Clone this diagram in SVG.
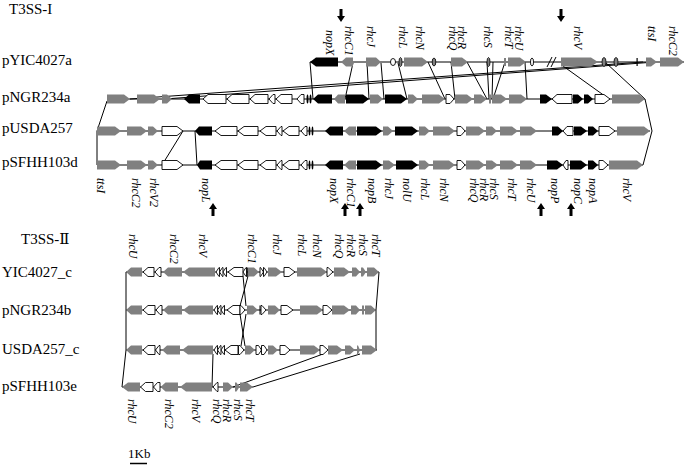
<svg xmlns="http://www.w3.org/2000/svg" width="685" height="465" viewBox="0 0 685 465">
<style>
.g{fill:#808080}
.gs{fill:#808080;stroke:#000;stroke-width:0.8}
.b{fill:#000}
.w{fill:#fff;stroke:#000;stroke-width:0.9}
.bb{stroke:#000;stroke-width:1}
.c{stroke:#000;stroke-width:1;fill:none}
.lab{font-family:"Liberation Serif","DejaVu Serif",serif;font-size:15px;fill:#000}
.gl{font-family:"Liberation Serif",serif;font-size:12px;font-style:italic;fill:#000}
</style>
<rect width="685" height="465" fill="#fff"/>

<g id="titles">
<text class="lab" x="9" y="14">T3SS-I</text>
<text class="lab" x="21" y="244">T3SS-Ⅱ</text>
<text class="lab" x="2" y="65">pYIC4027a</text>
<text class="lab" x="2" y="102">pNGR234a</text>
<text class="lab" x="2" y="133">pUSDA257</text>
<text class="lab" x="2" y="167">pSFHH103d</text>
<text class="lab" x="2" y="277">YIC4027_c</text>
<text class="lab" x="2" y="315">pNGR234b</text>
<text class="lab" x="2" y="354">USDA257_c</text>
<text class="lab" x="2" y="391">pSFHH103e</text>
</g>

<g id="connectors">
<line class="c" x1="310" y1="62" x2="313" y2="99"/>
<line class="c" x1="353" y1="63" x2="345" y2="99"/>
<line class="c" x1="367" y1="63" x2="369" y2="99"/>
<line class="c" x1="381" y1="63" x2="384" y2="99"/>
<line class="c" x1="398" y1="63" x2="407" y2="99"/>
<line class="c" x1="428" y1="62" x2="445" y2="99"/>
<line class="c" x1="451" y1="62" x2="455" y2="99"/>
<line class="c" x1="467" y1="62" x2="487" y2="99"/>
<line class="c" x1="487" y1="62" x2="489" y2="99"/>
<line class="c" x1="493" y1="62" x2="492" y2="99"/>
<line class="c" x1="505" y1="62" x2="493" y2="99"/>
<line class="c" x1="525" y1="62" x2="527" y2="99"/>
<line class="c" x1="563" y1="66" x2="609" y2="99"/>
<polyline class="c" points="605,62 645,99 652,131 643,165"/>
<line class="c" x1="130" y1="99" x2="643" y2="62"/>
<line class="c" x1="165" y1="99" x2="655" y2="62"/>
<polyline class="c" points="107,101 97,131 97,165"/>
<line class="c" x1="183" y1="131" x2="162" y2="165"/>
<line class="c" x1="195" y1="131" x2="197" y2="165"/>
<polyline class="c" points="126,272 126,350 122,387"/>
<polyline class="c" points="379,272 376,310 376,350"/>
<line class="c" x1="243" y1="276" x2="246" y2="306"/>
<line class="c" x1="248" y1="276" x2="240" y2="306"/>
<line class="c" x1="240" y1="314" x2="245" y2="346"/>
<line class="c" x1="246" y1="314" x2="241" y2="346"/>
<line class="c" x1="213" y1="354" x2="212" y2="387"/>
<line class="c" x1="323" y1="354" x2="233" y2="387"/>
<line class="c" x1="360" y1="354" x2="253" y2="387"/>
</g>

<g id="row-pYIC4027a" transform="translate(0,62)">
<line class="bb" x1="310" y1="0" x2="684" y2="0"/>
<polygon class="b" points="310,0 316,-4.5 338,-4.5 338,4.5 316,4.5"/>
<polygon class="g" points="341,0 346,-4.5 353,-4.5 353,4.5 346,4.5"/>
<polygon class="g" points="366,-4.5 376,-4.5 381,0 376,4.5 366,4.5"/>
<ellipse class="w" cx="393" cy="0" rx="2.5" ry="3.5"/>
<ellipse class="gs" cx="400.5" cy="0" rx="1.5" ry="4.5"/>
<polygon class="g" points="404,-4.5 422,-4.5 428,0 422,4.5 404,4.5"/>
<ellipse class="gs" cx="434" cy="0" rx="1.8" ry="4"/>
<polygon class="g" points="451,-4.5 462,-4.5 468,0 462,4.5 451,4.5"/>
<ellipse class="gs" cx="488.5" cy="0" rx="1.5" ry="4.5"/>
<rect class="g" x="504" y="-4" width="2" height="8"/>
<polygon class="g" points="508,-4.5 520,-4.5 526,0 520,4.5 508,4.5"/>
<ellipse class="w" cx="532" cy="0" rx="1.5" ry="4"/>
<line class="bb" x1="547" y1="5" x2="552" y2="-5"/>
<line class="bb" x1="551" y1="5" x2="556" y2="-5"/>
<polygon class="g" points="561,-4.5 591,-4.5 598,0 591,4.5 561,4.5"/>
<ellipse class="gs" cx="604" cy="0" rx="2" ry="4.5"/>
<ellipse class="gs" cx="616" cy="0" rx="2" ry="4.5"/>
<rect class="b" x="636.5" y="-4" width="1.2" height="8"/>
<polygon class="g" points="646,-4.5 651,-4.5 657,0 651,4.5 646,4.5"/>
<polygon class="g" points="660,-4.5 678,-4.5 684,0 678,4.5 660,4.5"/>
</g>

<g id="row-pNGR234a" transform="translate(0,99)">
<line class="bb" x1="107" y1="0" x2="645" y2="0"/>
<polygon class="g" points="107,-4.5 124,-4.5 130,0 124,4.5 107,4.5"/>
<polygon class="g" points="137,-4.5 154,-4.5 160,0 154,4.5 137,4.5"/>
<polygon class="g" points="162,-4.5 167,-4.5 172,0 167,4.5 162,4.5"/>
<polygon class="b" points="184,0 189,-4.5 200,-4.5 200,4.5 189,4.5"/>
<polygon class="w" points="203,0 208,-4.5 226,-4.5 226,4.5 208,4.5"/>
<polygon class="w" points="227,0 232,-4.5 249,-4.5 249,4.5 232,4.5"/>
<polygon class="w" points="250,0 255,-4.5 268,-4.5 268,4.5 255,4.5"/>
<polygon class="w" points="269,0 273,-4.5 275,-4.5 275,4.5 273,4.5"/>
<polygon class="w" points="276,0 281,-4.5 292,-4.5 292,4.5 281,4.5"/>
<polygon class="w" points="297,0 301,-4.5 304,-4.5 304,4.5 301,4.5"/>
<ellipse class="b" cx="307.5" cy="0" rx="1" ry="4.5"/>
<ellipse class="b" cx="310.5" cy="0" rx="1" ry="4.5"/>
<polygon class="b" points="313,0 318,-4.5 332,-4.5 332,4.5 318,4.5"/>
<polygon class="g" points="334,0 338,-4.5 345,-4.5 345,4.5 338,4.5"/>
<polygon class="b" points="346,-4.5 363,-4.5 369,0 363,4.5 346,4.5"/>
<polygon class="g" points="370,-4.5 378,-4.5 383,0 378,4.5 370,4.5"/>
<polygon class="b" points="385,-4.5 401,-4.5 407,0 401,4.5 385,4.5"/>
<polygon class="g" points="408,-4.5 413,-4.5 418,0 413,4.5 408,4.5"/>
<polygon class="g" points="422,-4.5 439,-4.5 445,0 439,4.5 422,4.5"/>
<polygon class="w" points="446,-4.5 450,-4.5 454,0 450,4.5 446,4.5"/>
<polygon class="g" points="455,-4.5 467,-4.5 473,0 467,4.5 455,4.5"/>
<polygon class="g" points="474,-4.5 481,-4.5 487,0 481,4.5 474,4.5"/>
<rect class="g" x="489" y="-4.5" width="2" height="9"/>
<polygon class="g" points="492,-4.5 501,-4.5 507,0 501,4.5 492,4.5"/>
<polygon class="g" points="509,-4.5 521,-4.5 527,0 521,4.5 509,4.5"/>
<polygon class="b" points="540,-4.5 546,-4.5 552,0 546,4.5 540,4.5"/>
<polygon class="w" points="552,0 557,-4.5 572,-4.5 572,4.5 557,4.5"/>
<polygon class="b" points="573,-4.5 578,-4.5 583,0 578,4.5 573,4.5"/>
<polygon class="b" points="584,-4.5 588,-4.5 593,0 588,4.5 584,4.5"/>
<polygon class="w" points="595,-4.5 604,-4.5 610,0 604,4.5 595,4.5"/>
<polygon class="g" points="612,-4.5 639,-4.5 645,0 639,4.5 612,4.5"/>
</g>

<g id="row-pUSDA257" transform="translate(0,131)">
<line class="bb" x1="97" y1="0" x2="650" y2="0"/>
<polygon class="g" points="97,-4.5 115,-4.5 121,0 115,4.5 97,4.5"/>
<polygon class="g" points="127,-4.5 141,-4.5 147,0 141,4.5 127,4.5"/>
<polygon class="g" points="148,-4.5 153,-4.5 158,0 153,4.5 148,4.5"/>
<polygon class="w" points="162,-4.5 177,-4.5 183,0 177,4.5 162,4.5"/>
<polygon class="b" points="195,0 199,-4.5 212,-4.5 212,4.5 199,4.5"/>
<polygon class="w" points="215,0 221,-4.5 237,-4.5 237,4.5 221,4.5"/>
<polygon class="w" points="238,0 244,-4.5 258,-4.5 258,4.5 244,4.5"/>
<polygon class="w" points="260,0 266,-4.5 276,-4.5 276,4.5 266,4.5"/>
<polygon class="w" points="277,0 281,-4.5 282,-4.5 282,4.5 281,4.5"/>
<polygon class="w" points="283,0 289,-4.5 299,-4.5 299,4.5 289,4.5"/>
<polygon class="w" points="301,0 305,-4.5 307,-4.5 307,4.5 305,4.5"/>
<ellipse class="b" cx="309.5" cy="0" rx="0.9" ry="4.5"/>
<ellipse class="b" cx="312.5" cy="0" rx="0.9" ry="4.5"/>
<polygon class="b" points="325,0 330,-4.5 343,-4.5 343,4.5 330,4.5"/>
<polygon class="g" points="344,0 349,-4.5 356,-4.5 356,4.5 349,4.5"/>
<polygon class="b" points="357,-4.5 376,-4.5 382,0 376,4.5 357,4.5"/>
<polygon class="g" points="383,-4.5 388,-4.5 393,0 388,4.5 383,4.5"/>
<polygon class="b" points="395,-4.5 412,-4.5 418,0 412,4.5 395,4.5"/>
<polygon class="g" points="419,-4.5 425,-4.5 430,0 425,4.5 419,4.5"/>
<polygon class="g" points="433,-4.5 449,-4.5 455,0 449,4.5 433,4.5"/>
<polygon class="w" points="457,-4.5 461,-4.5 465,0 461,4.5 457,4.5"/>
<polygon class="g" points="466,-4.5 479,-4.5 485,0 479,4.5 466,4.5"/>
<polygon class="g" points="486,-4.5 492,-4.5 497,0 492,4.5 486,4.5"/>
<polygon class="g" points="500,-4.5 512,-4.5 518,0 512,4.5 500,4.5"/>
<polygon class="g" points="520,-4.5 531,-4.5 537,0 531,4.5 520,4.5"/>
<polygon class="b" points="552,-4.5 558,-4.5 563,0 558,4.5 552,4.5"/>
<polygon class="w" points="563,0 567,-4.5 573,-4.5 573,4.5 567,4.5"/>
<polygon class="b" points="574,-4.5 581,-4.5 587,0 581,4.5 574,4.5"/>
<polygon class="b" points="588,-4.5 593,-4.5 598,0 593,4.5 588,4.5"/>
<polygon class="w" points="599,-4.5 609,-4.5 615,0 609,4.5 599,4.5"/>
<polygon class="g" points="617,-4.5 644,-4.5 650,0 644,4.5 617,4.5"/>
</g>

<g id="row-pSFHH103d" transform="translate(0,165)">
<line class="bb" x1="97" y1="0" x2="643" y2="0"/>
<polygon class="g" points="97,-4.5 115,-4.5 121,0 115,4.5 97,4.5"/>
<polygon class="g" points="127,-4.5 141,-4.5 147,0 141,4.5 127,4.5"/>
<polygon class="g" points="148,-4.5 153,-4.5 158,0 153,4.5 148,4.5"/>
<polygon class="w" points="162,-4.5 177,-4.5 183,0 177,4.5 162,4.5"/>
<polygon class="b" points="197,0 200,-4.5 212,-4.5 212,4.5 200,4.5"/>
<polygon class="w" points="215,0 221,-4.5 237,-4.5 237,4.5 221,4.5"/>
<polygon class="w" points="238,0 244,-4.5 258,-4.5 258,4.5 244,4.5"/>
<polygon class="w" points="260,0 266,-4.5 276,-4.5 276,4.5 266,4.5"/>
<polygon class="w" points="277,0 281,-4.5 282,-4.5 282,4.5 281,4.5"/>
<polygon class="w" points="283,0 289,-4.5 299,-4.5 299,4.5 289,4.5"/>
<polygon class="w" points="301,0 305,-4.5 307,-4.5 307,4.5 305,4.5"/>
<ellipse class="b" cx="309.5" cy="0" rx="0.9" ry="4.5"/>
<ellipse class="b" cx="312.5" cy="0" rx="0.9" ry="4.5"/>
<polygon class="b" points="325,0 330,-4.5 343,-4.5 343,4.5 330,4.5"/>
<polygon class="g" points="344,0 349,-4.5 356,-4.5 356,4.5 349,4.5"/>
<polygon class="b" points="357,-4.5 376,-4.5 382,0 376,4.5 357,4.5"/>
<polygon class="g" points="383,-4.5 389,-4.5 395,0 389,4.5 383,4.5"/>
<polygon class="b" points="396,-4.5 412,-4.5 418,0 412,4.5 396,4.5"/>
<polygon class="g" points="419,-4.5 425,-4.5 430,0 425,4.5 419,4.5"/>
<polygon class="g" points="433,-4.5 449,-4.5 455,0 449,4.5 433,4.5"/>
<polygon class="w" points="457,-4.5 461,-4.5 465,0 461,4.5 457,4.5"/>
<polygon class="g" points="466,-4.5 479,-4.5 485,0 479,4.5 466,4.5"/>
<polygon class="g" points="486,-4.5 492,-4.5 498,0 492,4.5 486,4.5"/>
<polygon class="g" points="500,-4.5 512,-4.5 518,0 512,4.5 500,4.5"/>
<polygon class="g" points="520,-4.5 531,-4.5 537,0 531,4.5 520,4.5"/>
<polygon class="b" points="547,-4.5 557,-4.5 563,0 557,4.5 547,4.5"/>
<polygon class="w" points="563,0 566,-4.5 568,-4.5 568,4.5 566,4.5"/>
<polygon class="b" points="570,-4.5 581,-4.5 587,0 581,4.5 570,4.5"/>
<polygon class="b" points="588,-4.5 593,-4.5 598,0 593,4.5 588,4.5"/>
<polygon class="w" points="599,-4.5 603,-4.5 608,0 603,4.5 599,4.5"/>
<polygon class="g" points="609,-4.5 637,-4.5 643,0 637,4.5 609,4.5"/>
</g>

<g id="row-YIC4027_c" transform="translate(0,272)">
<line class="bb" x1="126" y1="0" x2="379" y2="0"/>
<polygon class="g" points="126,0 131,-4.5 142,-4.5 142,4.5 131,4.5"/>
<polygon class="w" points="143,0 148,-4.5 154,-4.5 154,4.5 148,4.5"/>
<polygon class="w" points="155,0 159,-4.5 161,-4.5 161,4.5 159,4.5"/>
<polygon class="g" points="163,0 168,-4.5 182,-4.5 182,4.5 168,4.5"/>
<polygon class="g" points="183,0 189,-4.5 215,-4.5 215,4.5 189,4.5"/>
<polygon class="w" points="216,0 219,-4.5 219.5,-4.5 219.5,4.5 219,4.5"/>
<polygon class="w" points="219.5,0 222.5,-4.5 223,-4.5 223,4.5 222.5,4.5"/>
<polygon class="w" points="223,0 226,-4.5 226.5,-4.5 226.5,4.5 226,4.5"/>
<polygon class="w" points="228,0 234,-4.5 243,-4.5 243,4.5 234,4.5"/>
<polygon class="w" points="243,0 246,-4.5 246.5,-4.5 246.5,4.5 246,4.5"/>
<rect class="b" x="246.8" y="-4.5" width="1" height="9"/>
<polygon class="g" points="248,-4.5 254,-4.5 259,0 254,4.5 248,4.5"/>
<polygon class="w" points="260,-4.5 260.5,-4.5 263.5,0 260.5,4.5 260,4.5"/>
<polygon class="w" points="263.5,-4.5 264,-4.5 267,0 264,4.5 263.5,4.5"/>
<polygon class="g" points="268,-4.5 276,-4.5 282,0 276,4.5 268,4.5"/>
<polygon class="w" points="284,-4.5 289,-4.5 295,0 289,4.5 284,4.5"/>
<polygon class="g" points="297,-4.5 321,-4.5 327,0 321,4.5 297,4.5"/>
<polygon class="w" points="327,-4.5 328,-4.5 333,0 328,4.5 327,4.5"/>
<polygon class="g" points="334,-4.5 344,-4.5 350,0 344,4.5 334,4.5"/>
<polygon class="g" points="352,-4.5 356,-4.5 360,0 356,4.5 352,4.5"/>
<polygon class="g" points="361,-4.5 363,-4.5 366,0 363,4.5 361,4.5"/>
<polygon class="g" points="367,-4.5 374,-4.5 379,0 374,4.5 367,4.5"/>
</g>

<g id="row-pNGR234b" transform="translate(0,310)">
<line class="bb" x1="126" y1="0" x2="376" y2="0"/>
<polygon class="g" points="126,0 131,-4.5 142,-4.5 142,4.5 131,4.5"/>
<polygon class="w" points="143,0 148,-4.5 155,-4.5 155,4.5 148,4.5"/>
<polygon class="w" points="156,0 160,-4.5 162,-4.5 162,4.5 160,4.5"/>
<polygon class="g" points="163,0 168,-4.5 182,-4.5 182,4.5 168,4.5"/>
<polygon class="g" points="183,0 189,-4.5 213,-4.5 213,4.5 189,4.5"/>
<polygon class="w" points="214,0 217,-4.5 217.5,-4.5 217.5,4.5 217,4.5"/>
<polygon class="w" points="217.5,0 220.5,-4.5 221,-4.5 221,4.5 220.5,4.5"/>
<polygon class="w" points="221,0 224,-4.5 224.5,-4.5 224.5,4.5 224,4.5"/>
<polygon class="w" points="227,0 233,-4.5 240,-4.5 240,4.5 233,4.5"/>
<polygon class="w" points="240,-4.5 241,-4.5 245,0 241,4.5 240,4.5"/>
<polygon class="g" points="247,-4.5 253,-4.5 258,0 253,4.5 247,4.5"/>
<rect class="b" x="259.5" y="-4.5" width="1" height="9"/>
<polygon class="w" points="261,-4.5 262,-4.5 266,0 262,4.5 261,4.5"/>
<polygon class="g" points="268,-4.5 275,-4.5 280,0 275,4.5 268,4.5"/>
<polygon class="w" points="281,-4.5 287,-4.5 293,0 287,4.5 281,4.5"/>
<polygon class="g" points="300,-4.5 317,-4.5 323,0 317,4.5 300,4.5"/>
<polygon class="w" points="323,-4.5 327,-4.5 332,0 327,4.5 323,4.5"/>
<polygon class="g" points="332,-4.5 344,-4.5 350,0 344,4.5 332,4.5"/>
<polygon class="g" points="351,-4.5 356,-4.5 360,0 356,4.5 351,4.5"/>
<rect class="g" x="362" y="-4.5" width="2" height="9"/>
<polygon class="g" points="365,-4.5 371,-4.5 376,0 371,4.5 365,4.5"/>
</g>

<g id="row-USDA257_c" transform="translate(0,350)">
<line class="bb" x1="126" y1="0" x2="377" y2="0"/>
<polygon class="g" points="126,0 131,-4.5 142,-4.5 142,4.5 131,4.5"/>
<polygon class="w" points="143,0 148,-4.5 155,-4.5 155,4.5 148,4.5"/>
<polygon class="w" points="155.5,0 159,-4.5 160,-4.5 160,4.5 159,4.5"/>
<polygon class="g" points="162,0 167,-4.5 180,-4.5 180,4.5 167,4.5"/>
<polygon class="g" points="182,0 188,-4.5 213,-4.5 213,4.5 188,4.5"/>
<polygon class="w" points="214,0 217,-4.5 217.5,-4.5 217.5,4.5 217,4.5"/>
<polygon class="w" points="217.5,0 220.5,-4.5 221,-4.5 221,4.5 220.5,4.5"/>
<polygon class="w" points="221,0 224,-4.5 224.5,-4.5 224.5,4.5 224,4.5"/>
<polygon class="w" points="225,0 231,-4.5 238,-4.5 238,4.5 231,4.5"/>
<polygon class="w" points="238.5,-4.5 240,-4.5 244,0 240,4.5 238.5,4.5"/>
<polygon class="g" points="245,-4.5 250,-4.5 255,0 250,4.5 245,4.5"/>
<polygon class="w" points="256,-4.5 258.5,-4.5 261.5,0 258.5,4.5 256,4.5"/>
<polygon class="w" points="261.5,-4.5 264,-4.5 267,0 264,4.5 261.5,4.5"/>
<polygon class="g" points="268,-4.5 273,-4.5 278,0 273,4.5 268,4.5"/>
<polygon class="w" points="280,-4.5 285,-4.5 290,0 285,4.5 280,4.5"/>
<polygon class="g" points="300,-4.5 314,-4.5 320,0 314,4.5 300,4.5"/>
<polygon class="w" points="320,-4.5 323,-4.5 328,0 323,4.5 320,4.5"/>
<polygon class="g" points="328,-4.5 337,-4.5 343,0 337,4.5 328,4.5"/>
<polygon class="g" points="345,-4.5 350,-4.5 355,0 350,4.5 345,4.5"/>
<polygon class="g" points="357,-4.5 358,-4.5 360,0 358,4.5 357,4.5"/>
<polygon class="g" points="362,-4.5 371,-4.5 377,0 371,4.5 362,4.5"/>
</g>

<g id="row-pSFHH103e" transform="translate(0,387)">
<line class="bb" x1="122" y1="0" x2="253" y2="0"/>
<polygon class="g" points="122,0 128,-4.5 140,-4.5 140,4.5 128,4.5"/>
<polygon class="w" points="140.5,0 145.5,-4.5 153,-4.5 153,4.5 145.5,4.5"/>
<polygon class="w" points="153.5,0 157.5,-4.5 160,-4.5 160,4.5 157.5,4.5"/>
<polygon class="g" points="160.5,0 165.5,-4.5 178,-4.5 178,4.5 165.5,4.5"/>
<polygon class="g" points="180,0 186,-4.5 212,-4.5 212,4.5 186,4.5"/>
<polygon class="w" points="213,0 217,-4.5 218,-4.5 218,4.5 217,4.5"/>
<polygon class="g" points="223,-4.5 228,-4.5 233,0 228,4.5 223,4.5"/>
<polygon class="g" points="235,-4.5 236.5,-4.5 239.5,0 236.5,4.5 235,4.5"/>
<polygon class="g" points="240,-4.5 247,-4.5 253,0 247,4.5 240,4.5"/>
</g>

<g id="markers">
<polygon class="b" points="339.5,9 342.5,9 342.5,16 345,16 341,22 337,16 339.5,16"/>
<polygon class="b" points="559.5,9 562.5,9 562.5,16 565,16 561,22 557,16 559.5,16"/>
<polygon class="b" points="213,203 217,209 214.5,209 214.5,216 211.5,216 211.5,209 209,209"/>
<polygon class="b" points="345,203 349,209 346.5,209 346.5,216 343.5,216 343.5,209 341,209"/>
<polygon class="b" points="360,203 364,209 361.5,209 361.5,216 358.5,216 358.5,209 356,209"/>
<polygon class="b" points="541,203 545,209 542.5,209 542.5,216 539.5,216 539.5,209 537,209"/>
<polygon class="b" points="571,203 575,209 572.5,209 572.5,216 569.5,216 569.5,209 567,209"/>
</g>

<g id="labels-top-I">
<text class="gl" transform="translate(326,30) rotate(90)">nopX</text>
<text class="gl" transform="translate(345,26) rotate(90)">rhcC1</text>
<text class="gl" transform="translate(367,26) rotate(90)">rhcJ</text>
<text class="gl" transform="translate(399,26) rotate(90)">rhcL</text>
<text class="gl" transform="translate(416,26) rotate(90)">rhcN</text>
<text class="gl" transform="translate(449,26) rotate(90)">rhcQ</text>
<text class="gl" transform="translate(458,26) rotate(90)">rhcR</text>
<text class="gl" transform="translate(484,26) rotate(90)">rhcS</text>
<text class="gl" transform="translate(505,26) rotate(90)">rhcT</text>
<text class="gl" transform="translate(515,26) rotate(90)">rhcU</text>
<text class="gl" transform="translate(574,26) rotate(90)">rhcV</text>
<text class="gl" transform="translate(648,26) rotate(90)">ttsI</text>
<text class="gl" transform="translate(669,26) rotate(90)">rhcC2</text>
</g>

<g id="labels-bottom-I">
<text class="gl" transform="translate(97,178) rotate(90)">ttsI</text>
<text class="gl" transform="translate(132,178) rotate(90)">rhcC2</text>
<text class="gl" transform="translate(150,178) rotate(90)">rhcV2</text>
<text class="gl" transform="translate(202,178) rotate(90)">nopL</text>
<text class="gl" transform="translate(330,178) rotate(90)">nopX</text>
<text class="gl" transform="translate(347,178) rotate(90)">rhcC1</text>
<text class="gl" transform="translate(368,178) rotate(90)">nopB</text>
<text class="gl" transform="translate(385,178) rotate(90)">rhcJ</text>
<text class="gl" transform="translate(403,178) rotate(90)">nolU</text>
<text class="gl" transform="translate(421,178) rotate(90)">rhcL</text>
<text class="gl" transform="translate(440,178) rotate(90)">rhcN</text>
<text class="gl" transform="translate(470,178) rotate(90)">rhcQ</text>
<text class="gl" transform="translate(480,178) rotate(90)">rhcR</text>
<text class="gl" transform="translate(490,178) rotate(90)">rhcS</text>
<text class="gl" transform="translate(508,178) rotate(90)">rhcT</text>
<text class="gl" transform="translate(527,178) rotate(90)">rhcU</text>
<text class="gl" transform="translate(551,178) rotate(90)">nopP</text>
<text class="gl" transform="translate(574,178) rotate(90)">nopC</text>
<text class="gl" transform="translate(589,178) rotate(90)">nopA</text>
<text class="gl" transform="translate(623,178) rotate(90)">rhcV</text>
</g>

<g id="labels-top-II">
<text class="gl" transform="translate(129,234) rotate(90)">rhcU</text>
<text class="gl" transform="translate(170,234) rotate(90)">rhcC2</text>
<text class="gl" transform="translate(199,234) rotate(90)">rhcV</text>
<text class="gl" transform="translate(248,234) rotate(90)">rhcC1</text>
<text class="gl" transform="translate(273,234) rotate(90)">rhcJ</text>
<text class="gl" transform="translate(298,234) rotate(90)">rhcL</text>
<text class="gl" transform="translate(313,234) rotate(90)">rhcN</text>
<text class="gl" transform="translate(335,234) rotate(90)">rhcQ</text>
<text class="gl" transform="translate(347,234) rotate(90)">rhcR</text>
<text class="gl" transform="translate(359,234) rotate(90)">rhcS</text>
<text class="gl" transform="translate(372,234) rotate(90)">rhcT</text>
</g>

<g id="labels-bottom-II">
<text class="gl" transform="translate(128,399) rotate(90)">rhcU</text>
<text class="gl" transform="translate(165,399) rotate(90)">rhcC2</text>
<text class="gl" transform="translate(192,399) rotate(90)">rhcV</text>
<text class="gl" transform="translate(213,399) rotate(90)">rhcQ</text>
<text class="gl" transform="translate(223,399) rotate(90)">rhcR</text>
<text class="gl" transform="translate(234,399) rotate(90)">rhcS</text>
<text class="gl" transform="translate(246,399) rotate(90)">rhcT</text>
</g>

<g id="scale">
<text class="lab" x="128" y="458" style="font-size:13px">1Kb</text>
<line x1="130" y1="463.5" x2="147" y2="463.5" stroke="#000" stroke-width="1.5"/>
</g>
</svg>
